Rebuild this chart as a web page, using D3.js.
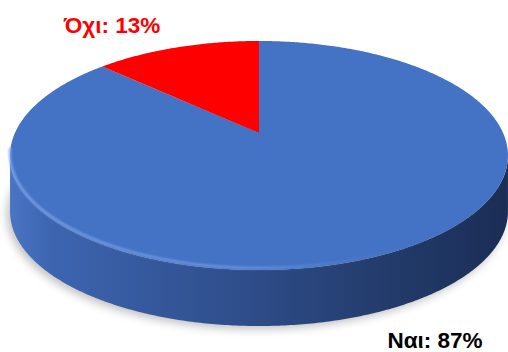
<!DOCTYPE html>
<html><head><meta charset="utf-8">
<script src="https://cdn.jsdelivr.net/npm/d3@7"></script>
<style>body{margin:0;background:#fff}svg{display:block}</style></head>
<body>
<svg id="c" width="508" height="352"></svg>
<script>
const categories = ["Ναι", "Όχι"];
const values = [87, 13];
const labels = ["Ναι: 87%", "Όχι: 13%"];

const color = d3.scaleOrdinal().domain(categories).range(["#4472C4", "#FF0000"]);
const labelColor = d3.scaleOrdinal().domain(categories).range(["#000000", "#FF0000"]);

const svg = d3.select("#c");
const X0 = 259, Y0 = 133, A = 110.1, B = 244.1, k = 0.1965, depth = 56;
function proj(a, dy) {
  const u = Math.sin(a), v = Math.cos(a), w = 1 + k * v;
  return [X0 + B * u / w, Y0 - A * v / w + (dy || 0)];
}
function arcPts(a0, a1, dy) {
  const n = Math.max(2, Math.ceil(Math.abs(a1 - a0) / 0.01));
  return d3.range(n + 1).map(i => proj(a0 + (a1 - a0) * i / n, dy));
}
const line = d3.line();

const defs = svg.append("defs");
const sg = defs.append("linearGradient").attr("id", "side").attr("gradientUnits", "userSpaceOnUse")
  .attr("x1", 10).attr("x2", 508).attr("y1", 0).attr("y2", 0);
[[0, "#4a75c4"], [0.08, "#3d65b0"], [0.45, "#2f4e8c"], [0.75, "#233c6c"], [1, "#1b2d55"]]
  .forEach(s => sg.append("stop").attr("offset", s[0]).attr("stop-color", s[1]));
const hg = defs.append("linearGradient").attr("id", "hl").attr("gradientUnits", "userSpaceOnUse")
  .attr("x1", 10).attr("x2", 508).attr("y1", 0).attr("y2", 0);
[[0, "#7ea6ec", 0.9], [0.5, "#6f9ae3", 0.8], [0.85, "#4472C4", 0], [1, "#4472C4", 0]]
  .forEach(s => hg.append("stop").attr("offset", s[0]).attr("stop-color", s[1]).attr("stop-opacity", s[2]));
defs.append("filter").attr("id", "blur").attr("x", "-20%").attr("y", "-20%").attr("width", "140%").attr("height", "140%")
  .append("feGaussianBlur").attr("stdDeviation", 5);
defs.append("filter").attr("id", "blur2").append("feGaussianBlur").attr("stdDeviation", 1.3);

const aR = Math.acos(-k), aL = 2 * Math.PI - aR;

// shadow
svg.append("path")
  .attr("d", line(arcPts(0, 2 * Math.PI, depth + 3).map(p => [p[0] - 3, p[1]])) + "Z")
  .attr("fill", "#000").attr("opacity", 0.25).attr("filter", "url(#blur)");

// side wall
const sidePts = arcPts(aR, aL, 0).concat(arcPts(aL, aR, depth));
svg.append("path").attr("d", line(sidePts) + "Z").attr("fill", "url(#side)");

// top face slices
const pie = d3.pie().sort(null).value(d => d)(values);
svg.selectAll("path.slice").data(pie).join("path").attr("class", "slice")
  .attr("d", d => line([[X0, Y0]].concat(arcPts(d.startAngle, d.endAngle, 0))) + "Z")
  .attr("fill", (d, i) => color(categories[i]));

// rim highlight
svg.append("path").attr("d", line(arcPts(aR - 0.15, aL + 0.05, -2)))
  .attr("fill", "none").attr("stroke", "url(#hl)").attr("stroke-width", 2.5).attr("filter", "url(#blur2)");

// labels
const labelPos = [[435, 348], [112, 33]];
svg.selectAll("text.lbl").data(labels).join("text").attr("class", "lbl")
  .attr("x", (d, i) => labelPos[i][0]).attr("y", (d, i) => labelPos[i][1])
  .attr("text-anchor", "middle")
  .attr("font-family", "Liberation Sans, Arial, sans-serif").attr("font-weight", "bold").attr("font-size", 22.5)
  .attr("fill", (d, i) => labelColor(categories[i]))
  .text(d => d);
</script>
</body></html>
